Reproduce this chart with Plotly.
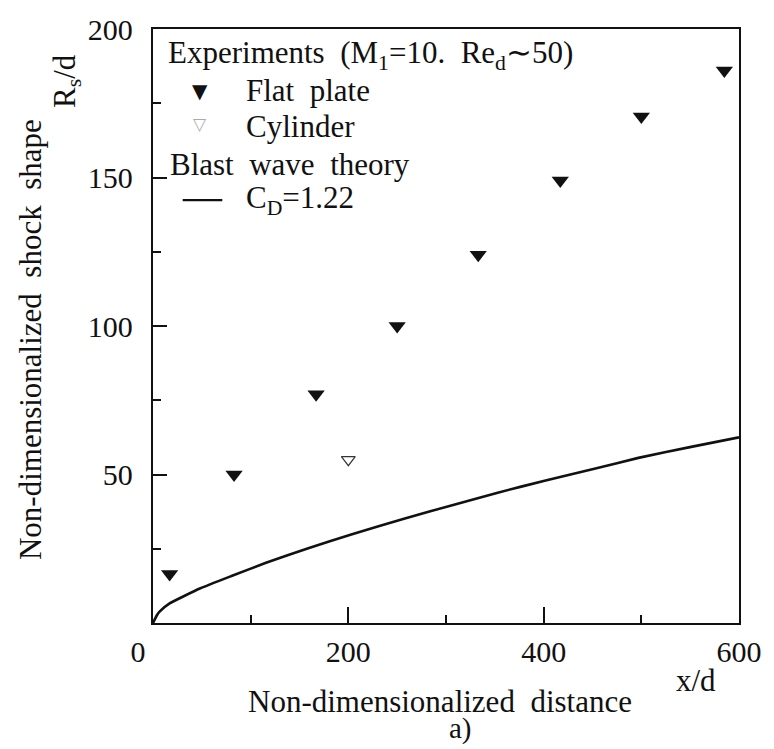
import plotly.graph_objects as go

# Experimental shock shape, flat plate model
plate_x = [17, 83, 167, 250, 333, 417, 500, 585]
plate_y = [16.5, 50, 77, 100, 124, 149, 170.5, 186]

# Experimental shock shape, cylinder model
cyl_x = [200]
cyl_y = [55]

# Blast wave theory, C_D = 1.22
blast_x = [0, 4, 7, 17, 48, 81, 115, 159, 203, 257, 311, 352, 402, 453, 497, 551, 600]
blast_y = [0, 2.6, 3.9, 6.6, 11.6, 15.9, 20.2, 25.2, 29.8, 35.1, 40.1, 43.8, 48.0, 52.0, 55.6, 59.3, 62.5]

x_ticks = [0, 200, 400, 600]
x_tick_text = ["0\u00a0\u00a0\u00a0\u00a0", "200", "400", "600"]
y_ticks = [50, 100, 150, 200]

FONT = "Liberation Serif, Times New Roman, serif"
INK = "#111111"
SP = " \u00a0"  # wide word gap

fig = go.Figure()

fig.add_trace(go.Scatter(
    x=blast_x, y=blast_y, mode="lines",
    line=dict(color=INK, width=2.6, shape="spline", smoothing=0.4),
    name="C_D=1.22", showlegend=False,
))
fig.add_trace(go.Scatter(
    x=plate_x, y=plate_y, mode="markers",
    marker=dict(symbol="triangle-down", size=15, color=INK),
    name="Flat plate", showlegend=False,
))
fig.add_trace(go.Scatter(
    x=cyl_x, y=cyl_y, mode="markers",
    marker=dict(symbol="triangle-down-open", size=12, color="#333333",
                line=dict(width=1.2, color="#333333")),
    name="Cylinder", showlegend=False,
))

axis_common = dict(
    showline=True, linecolor=INK, linewidth=2.4, mirror=True,
    showgrid=False, zeroline=False, ticks="inside", tickcolor=INK,
    tickwidth=2, tickfont=dict(family=FONT, size=30, color=INK),
)

fig.update_xaxes(
    range=[0, 600], tickvals=x_ticks, ticktext=x_tick_text,
    ticklen=16, ticklabelstandoff=1,
    minor=dict(dtick=100, ticks="inside", ticklen=8, tickcolor=INK, tickwidth=2),
    **axis_common,
)
fig.update_yaxes(
    range=[0, 200], tickvals=y_ticks, ticklen=14, ticklabelstandoff=12,
    minor=dict(dtick=25, ticks="inside", ticklen=8, tickcolor=INK, tickwidth=2),
    **axis_common,
)

L, R, T, B = 153, 29, 19, 126
W, H = 774, 749
PW, PH = W - L - R, H - T - B


def px(x):
    return (x - L) / PW


def py(y):
    return (H - B - y) / PH


def label(text, x, y, size=31, xanchor="left", angle=0, color=INK, family=FONT):
    fig.add_annotation(
        text=text, x=px(x), y=py(y), xref="paper", yref="paper",
        xanchor=xanchor, yanchor="middle", showarrow=False, textangle=angle,
        font=dict(family=family, size=size, color=color),
    )


# Legend block
label(f"Experiments{SP}(M<sub>1</sub>=10.{SP}Re<sub>d</sub>∼50)", 166, 45)
label("▼", 200, 82, size=20, xanchor="center", family="DejaVu Sans")
label(f"Flat{SP}plate", 245, 82)
label("▽", 200, 116, size=17, xanchor="center", color="#aaaaaa", family="DejaVu Sans")
label("Cylinder", 245, 118)
label(f"Blast{SP}wave{SP}theory", 168, 157)
fig.add_shape(type="line", xref="paper", yref="paper",
              x0=px(183), x1=px(223), y0=py(193), y1=py(193),
              line=dict(color=INK, width=2.4))
label("C<sub>D</sub>=1.22", 245, 193)

# Axis titles
label("x/d", 702, 681, xanchor="center")
label(f"Non-dimensionalized{SP}distance", 443, 703, xanchor="center")
label("a)", 464, 730, size=29, xanchor="center")
label(f"Non-dimensionalized{SP}shock{SP}shape", 30, 335, xanchor="center", angle=-90)
label("R<sub>s</sub>/d", 66, 72, xanchor="center", angle=-90)

fig.update_layout(
    width=W, height=H,
    margin=dict(l=L, r=R, t=T, b=B),
    paper_bgcolor="white", plot_bgcolor="white",
    showlegend=False,
)

fig.write_html("out.html")
